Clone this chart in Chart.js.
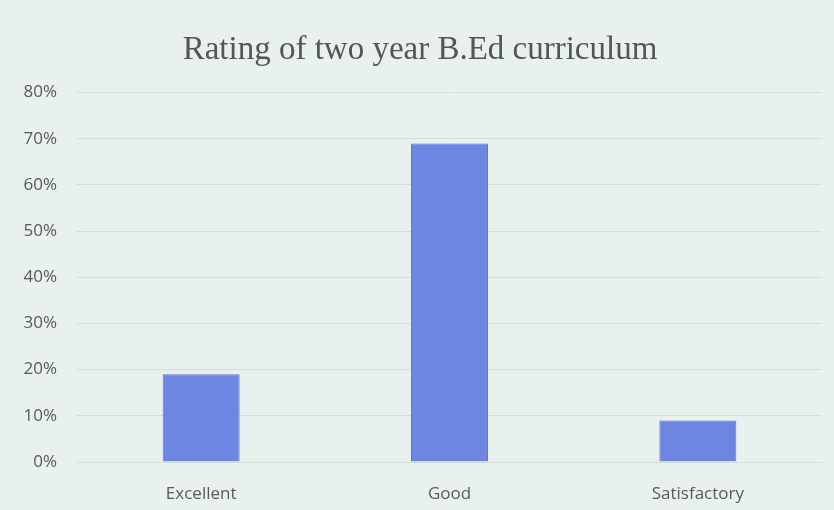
<!DOCTYPE html>
<html>
<head>
<meta charset="utf-8">
<script src="https://cdn.jsdelivr.net/npm/chart.js@4/dist/chart.umd.min.js"></script>
<style>
  html, body { margin: 0; padding: 0; background: #e9f1ef; }
  #wrap { width: 834px; height: 510px; }
</style>
</head>
<body>
<div id="wrap"><canvas id="barChart" width="834" height="510"></canvas></div>
<script>
// chart data
var categories = ["Excellent", "Good", "Satisfactory"];
var ratingValues = [19, 69, 9];
var tickMax = 80;
var tickStep = 10;

var ctxBar = document.getElementById("barChart").getContext("2d");
var barChart = new Chart(ctxBar, {
  type: "bar",
  data: {
    labels: categories,
    datasets: [
      {
        label: "Rating",
        data: ratingValues,
        backgroundColor: "#6c86e2",
        borderColor: "#5c75d2",
        borderWidth: 1,
        categoryPercentage: 1,
        barPercentage: 0.31,
      },
    ],
  },
  options: {
    responsive: false,
    animation: false,
    layout: {
      padding: { left: 18, right: 12, top: 18, bottom: 0 },
    },
    plugins: {
      legend: { display: false },
      tooltip: { enabled: false },
      title: {
        display: true,
        text: "Rating of two year B.Ed curriculum",
        color: "#555555",
        font: { family: "Liberation Serif", size: 33, weight: "normal" },
        padding: { top: 13, bottom: 22 },
      },
    },
    scales: {
      x: {
        afterFit: function (scale) {
          scale.height = 48;
        },
        grid: { display: false, drawTicks: false },
        border: { display: true, color: "#d4dcda" },
        ticks: {
          color: "#595959",
          font: { family: "Open Sans", size: 17 },
          padding: 22,
        },
      },
      y: {
        min: 0,
        max: tickMax,
        afterFit: function (scale) {
          scale.width = 59;
        },
        grid: { color: "rgba(205,214,212,0.75)", drawTicks: false },
        border: { display: false },
        ticks: {
          stepSize: tickStep,
          color: "#595959",
          font: { family: "Open Sans", size: 17 },
          padding: 20,
          callback: function (v) {
            return v + "%";
          },
        },
      },
    },
  },
});
</script>
</body>
</html>
